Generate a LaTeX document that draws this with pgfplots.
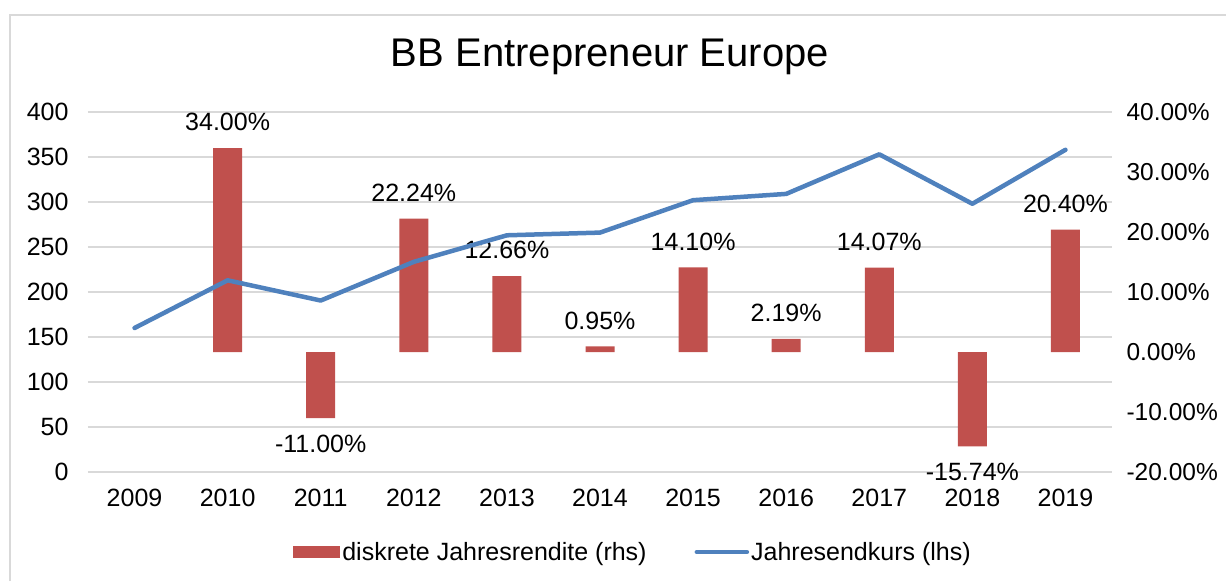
\documentclass[border=0pt]{standalone}
\usepackage{fontspec}
\setmainfont{Liberation Sans}
\usepackage{pgfplots}
\pgfplotsset{compat=1.18}
\definecolor{barred}{HTML}{C0504D}
\definecolor{lineblue}{HTML}{4F81BD}
\definecolor{gridgray}{HTML}{D9D9D9}
\begin{document}
\begin{tikzpicture}[x=1pt,y=1pt]
\useasboundingbox (0,0) rectangle (1226,581);
\draw[gridgray, line width=1.2pt] (10,0) -- (10,566) -- (1226,566);
\node[font=\fontsize{40}{44}\selectfont] at (610,524) {BB Entrepreneur Europe};
% left axis: price line
\begin{axis}[
  at={(88pt,109pt)}, anchor=south west,
  width=1024pt, height=360pt, scale only axis,
  xmin=-0.5, xmax=10.5, ymin=0, ymax=400,
  ytick={0,50,...,400},
  xtick={0,...,10},
  xticklabels={2009,2010,2011,2012,2013,2014,2015,2016,2017,2018,2019},
  ymajorgrids, grid style={gridgray, line width=1.2pt},
  axis line style={draw=none}, major tick style={draw=none},
  tick label style={font=\fontsize{25}{29}\selectfont},
  /pgf/number format/assume math mode=true,
  xticklabel shift=14pt, yticklabel shift=16pt,
  yticklabel style={/pgf/number format/fixed},
]
\end{axis}
% right axis: bars
\begin{axis}[
  at={(88pt,109pt)}, anchor=south west,
  width=1024pt, height=360pt, scale only axis,
  xmin=-0.5, xmax=10.5, ymin=-20, ymax=40,
  ytick={-20,-10,...,40},
  axis y line*=right, axis x line=none,
  axis line style={draw=none}, major tick style={draw=none},
  tick label style={font=\fontsize{24.5}{29}\selectfont},
  /pgf/number format/assume math mode=true,
  yticklabel={\pgfmathprintnumber[fixed,fixed zerofill,precision=2]{\tick}\%},
  yticklabel shift=11pt,
  ybar, bar width=29pt,
  nodes near coords={\pgfmathprintnumber[fixed,fixed zerofill,precision=2]{\pgfplotspointmeta}\%},
  nodes near coords style={font=\fontsize{25}{29}\selectfont, inner sep=0pt, outer sep=17pt, text=black},
  legend style={at={(545pt,-80pt)}, anchor=center, draw=none, fill=none,
    font=\fontsize{25}{29}\selectfont, legend columns=2,
    /tikz/every even column/.append style={column sep=46pt}},
  legend cell align=left,
]
\addplot[fill=barred, draw=none, bar shift=0pt,
  legend image code/.code={\fill[barred] (0pt,-6pt) rectangle (47pt,6pt);}] coordinates {
(1,34.00) (2,-11.00) (3,22.24) (4,12.66) (5,0.95) (6,14.10) (7,2.19) (8,14.07) (9,-15.74) (10,20.40)};
\addlegendentry{diskrete Jahresrendite (rhs)}
\addlegendimage{legend image code/.code={\draw[lineblue, line width=4.5pt, line cap=round] (2pt,0pt) -- (52pt,0pt);}}
\addlegendentry{Jahresendkurs (lhs)}
\end{axis}
% line on left scale, drawn on top
\begin{axis}[
  at={(88pt,109pt)}, anchor=south west,
  width=1024pt, height=360pt, scale only axis,
  xmin=-0.5, xmax=10.5, ymin=0, ymax=400,
  hide axis,
]
\addplot[lineblue, line width=4.5pt, line join=round, line cap=round] coordinates {
(0,160) (1,213) (2,190.5) (3,233.5) (4,263) (5,266) (6,302) (7,309) (8,353) (9,298) (10,358)};
\end{axis}
\end{tikzpicture}
\end{document}
